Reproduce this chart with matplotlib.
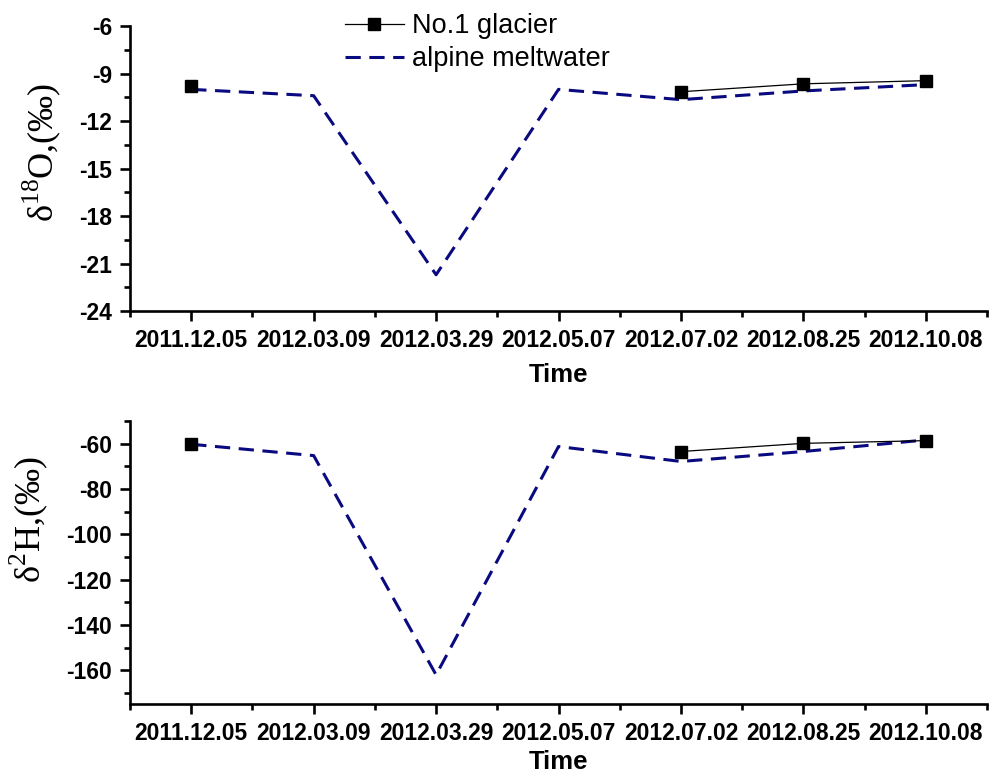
import matplotlib
matplotlib.use("Agg")
import matplotlib.pyplot as plt
import numpy as np
from matplotlib.ticker import MultipleLocator, FixedLocator

dates = ["2011.12.05", "2012.03.09", "2012.03.29", "2012.05.07",
         "2012.07.02", "2012.08.25", "2012.10.08"]
o18_glacier = [-9.8, np.nan, np.nan, np.nan, -10.15, -9.65, -9.45]
o18_meltwater = [-10.0, -10.4, -21.7, -10.0, -10.65, -10.1, -9.7]
h2_glacier = [-60.0, np.nan, np.nan, np.nan, -63.5, -59.9, -58.7]
h2_meltwater = [-60.3, -65.3, -162.0, -61.3, -67.9, -63.5, -58.4]

plt.rcParams['font.family'] = ['Liberation Sans', 'DejaVu Sans']
plt.rcParams['axes.unicode_minus'] = False

fig = plt.figure(figsize=(9.97, 7.78), dpi=100)
ax1 = fig.add_axes([0.1304, 0.600, 0.8596, 0.3666])
ax2 = fig.add_axes([0.1304, 0.0947, 0.8596, 0.3643])

navy = '#0a0a80'
x = np.arange(len(dates))

def style(ax, labelpad):
    for s in ['top', 'right']:
        ax.spines[s].set_visible(False)
    for s in ['left', 'bottom']:
        ax.spines[s].set_linewidth(1.9)
    ax.set_xlim(-0.5, 6.5)
    ax.set_xticks(x)
    ax.set_xticklabels(dates)
    ax.xaxis.set_minor_locator(FixedLocator(np.arange(-0.5, 7.0, 1.0)))
    ax.tick_params(which='major', direction='out', length=7, width=1.9,
                   labelsize=16.5, pad=6)
    ax.tick_params(which='minor', direction='out', length=4.5, width=1.9)
    for lab in ax.get_xticklabels() + ax.get_yticklabels():
        lab.set_fontweight('bold')
    ax.set_xlabel('Time', fontsize=18.5, fontweight='bold', labelpad=labelpad)

# top panel
ax1.plot(x, o18_meltwater, color=navy, lw=2.2, linestyle=(0, (5, 2.8)),
         label='alpine meltwater', zorder=2)
ax1.plot(x, o18_glacier, color='black', lw=0.9, marker='s', markersize=8,
         label='No.1 glacier', zorder=3)
ax1.set_ylim(-24, -6)
ax1.yaxis.set_major_locator(MultipleLocator(3))
ax1.yaxis.set_minor_locator(MultipleLocator(1.5))
style(ax1, 8)
ax1.set_ylabel(r'δ$^{\mathregular{18}}$O,(‰)', fontsize=26,
               family=['Liberation Serif', 'DejaVu Serif'])
ax1.yaxis.set_label_coords(-0.078, 0.558)

handles, labels = ax1.get_legend_handles_labels()
leg = ax1.legend(handles[::-1], labels[::-1], loc='upper left',
                 bbox_to_anchor=(0.222, 1.13), frameon=False, fontsize=19.5,
                 handlelength=2.2, handletextpad=0.3, labelspacing=0.25)

# bottom panel
ax2.plot(x, h2_meltwater, color=navy, lw=2.2, linestyle=(0, (5, 2.8)),
         zorder=2)
ax2.plot(x, h2_glacier, color='black', lw=0.9, marker='s', markersize=8,
         zorder=3)
ax2.set_ylim(-175, -50)
ax2.yaxis.set_major_locator(FixedLocator([-160, -140, -120, -100, -80, -60]))
ax2.yaxis.set_minor_locator(FixedLocator(np.arange(-170, -49, 10)))
style(ax2, 3)
ax2.set_ylabel(r'δ$^{\mathregular{2}}$H,(‰)', fontsize=26,
               family=['Liberation Serif', 'DejaVu Serif'])
ax2.yaxis.set_label_coords(-0.093, 0.65)

fig.savefig('out.png', dpi=100)
